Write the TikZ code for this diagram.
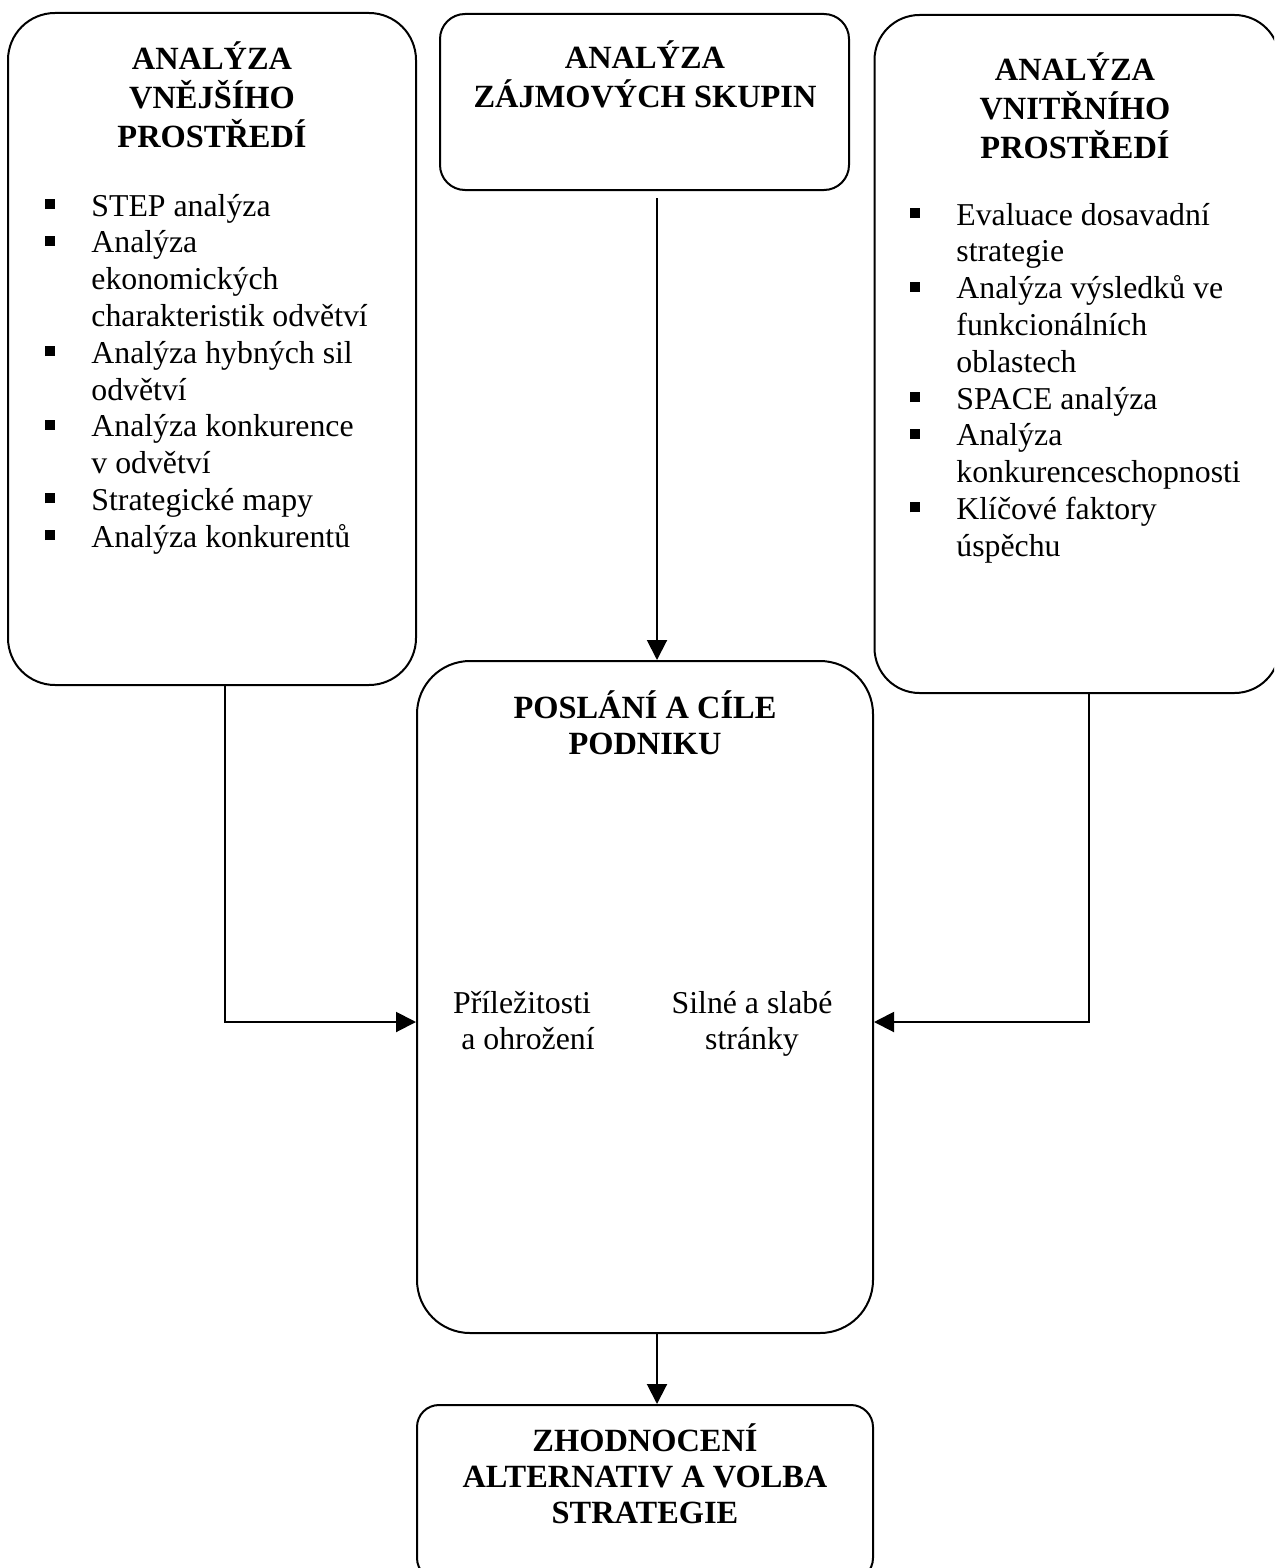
\documentclass[tikz,border=0pt]{standalone}
\usepackage{fontspec}
\setmainfont{Liberation Serif}
\usetikzlibrary{arrows.meta}
\newcommand{\bul}{\llap{\raisebox{3.5pt}{\rule{5pt}{5pt}}\hspace{18pt}}}
\newcommand{\bodyfont}{\fontsize{15.9pt}{18.4pt}\selectfont}
\newcommand{\titlefont}{\fontsize{16.2pt}{18pt}\selectfont\bfseries}
\begin{document}
\begin{tikzpicture}[x=0.5pt,y=-0.5pt,
  box/.style={draw, line width=1pt, rectangle, inner sep=0pt},
  txt/.style={inner sep=0pt, anchor=base},
  arr/.style={line width=1pt, -{Triangle[length=10pt,width=10pt]}},
  link/.style={line width=1pt}]
\useasboundingbox (0,0) rectangle (1274,1568);
\clip (0,0) rectangle (1274,1568);
% boxes
\node[box, rounded corners=23.5pt, minimum width=204pt, minimum height=336pt] (ext) at (212,349) {};
\node[box, rounded corners=12.5pt, minimum width=204.5pt, minimum height=88pt] (stake) at (644.5,102) {};
\node[box, rounded corners=22.5pt, minimum width=202.5pt, minimum height=339pt] (int) at (1077,354) {};
\node[box, rounded corners=26.5pt, minimum width=228pt, minimum height=336pt] (mis) at (645,997) {};
\node[box, rounded corners=11pt, minimum width=228pt, minimum height=87.5pt] (alt) at (645,1492.5) {};
% texts
\node[txt] (extT) at (212,70) {\titlefont\begin{tabular}[t]{@{}c@{}}ANALÝZA\\VNĚJŠÍHO\\PROSTŘEDÍ\end{tabular}};
\node[txt, anchor=base west] (extL) at (91,216) {\bodyfont\begin{tabular}[t]{@{}l@{}}\bul STEP analýza\\\bul Analýza\\ekonomických\\charakteristik odvětví\\\bul Analýza hybných sil\\odvětví\\\bul Analýza konkurence\\v odvětví\\\bul Strategické mapy\\\bul Analýza konkurentů\end{tabular}};
\node[txt] (stakeT) at (645,69) {\titlefont\begin{tabular}[t]{@{}c@{}}ANALÝZA\\ZÁJMOVÝCH SKUPIN\end{tabular}};
\node[txt] (intT) at (1075,81) {\titlefont\begin{tabular}[t]{@{}c@{}}ANALÝZA\\VNITŘNÍHO\\PROSTŘEDÍ\end{tabular}};
\node[txt, anchor=base west] (intL) at (956,225) {\bodyfont\begin{tabular}[t]{@{}l@{}}\bul Evaluace dosavadní\\strategie\\\bul Analýza výsledků ve\\funkcionálních\\oblastech\\\bul SPACE analýza\\\bul Analýza\\konkurenceschopnosti\\\bul Klíčové faktory\\úspěchu\end{tabular}};
\node[txt] (misT) at (645,718) {\titlefont\begin{tabular}[t]{@{}c@{}}POSLÁNÍ A CÍLE\\PODNIKU\end{tabular}};
\node[txt] (opp) at (522,1013) {\bodyfont\begin{tabular}[t]{@{}c@{}}Příležitosti\\\hspace*{6pt}a ohrožení\end{tabular}};
\node[txt] (sw) at (752,1013) {\bodyfont\begin{tabular}[t]{@{}c@{}}Silné a slabé\\stránky\end{tabular}};
\node[txt] (altT) at (645,1451) {\titlefont\begin{tabular}[t]{@{}c@{}}ZHODNOCENÍ\\ALTERNATIV A VOLBA\\STRATEGIE\end{tabular}};
% connectors
\coordinate (stakeout) at (657,198);
\coordinate (bend) at (0,1022);
\draw[arr] (stakeout) -- (mis.north -| stakeout);
\draw[arr] (ext.south -| 225,0) |- (mis.west |- bend);
\draw[arr] (int.south -| 1089,0) |- (mis.east |- bend);
\draw[arr] (mis.south -| stakeout) -- (alt.north -| stakeout);
\end{tikzpicture}
\end{document}
